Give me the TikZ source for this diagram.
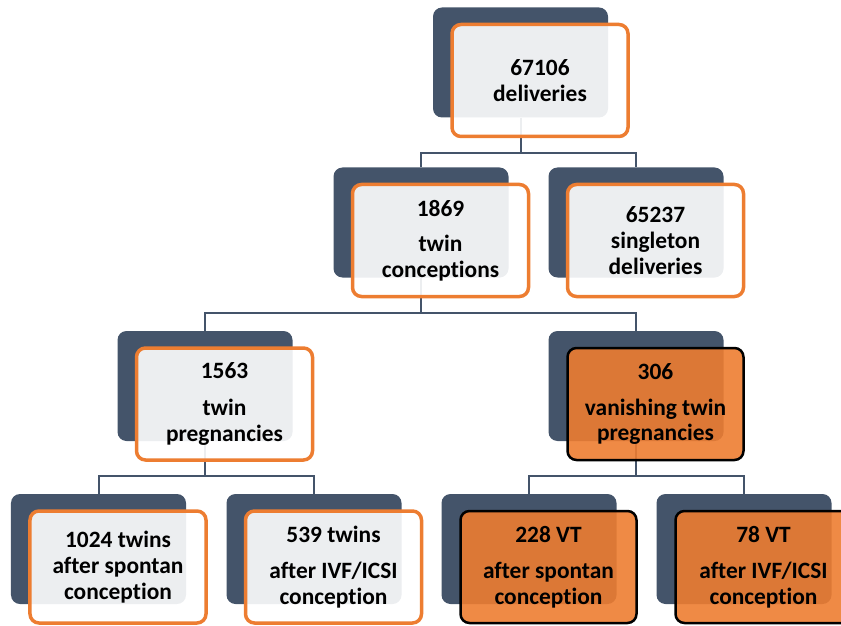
\documentclass[tikz,border=0pt]{standalone}
\usepackage{fontspec}
\setmainfont{Carlito}[Ligatures=NoCommon]
\usetikzlibrary{positioning}
\definecolor{slateBlue}{HTML}{44546A}
\definecolor{boxOrange}{HTML}{ED7D31}
\tikzset{
    backBox/.style={
        rounded corners=9bp,
        fill=slateBlue,
        inner sep=0pt,
        minimum width=175bp,
        minimum height=110bp
    },
    frontBox/.style={
        rounded corners=9bp,
        draw=boxOrange,
        line width=3.5bp,
        fill=white,
        fill opacity=0.9,
        text opacity=1,
        inner sep=0pt,
        minimum width=176bp,
        minimum height=112bp,
        xshift=19.5bp,
        yshift=-18bp,
        align=center,
        font=\fontsize{23.5}{26}\selectfont\bfseries
    },
    hotBox/.style={
        frontBox,
        draw=black,
        line width=2.5bp,
        fill=boxOrange
    },
    connLine/.style={
        draw=slateBlue,
        line width=2bp
    }
}

\begin{document}
\begin{tikzpicture}[x=1bp, y=-1bp]
            \useasboundingbox (0,0) rectangle (841,626);
            \clip (0,0) rectangle (841,626);

            % Back boxes
            \node[backBox] (b1) at (520.5,62.5) {};
            \node[backBox] (b2) at (421,222.5) {};
            \node[backBox] (b3) at (636,222.5) {};
            \node[backBox] (b4) at (205,386) {};
            \node[backBox] (b5) at (636,386) {};
            \node[backBox] (b6) at (98.5,549) {};
            \node[backBox] (b7) at (314,549) {};
            \node[backBox] (b8) at (529,549) {};
            \node[backBox] (b9) at (744,549) {};

            % Connectors
            \draw[connLine] (b1.south) -- ++(0,35) coordinate (j1);
            \draw[connLine] (b2.north) |- (j1) -| (b3.north);
            \draw[connLine] (b2.south) -- ++(0,35) coordinate (j2);
            \draw[connLine] (b4.north) |- (j2) -| (b5.north);
            \draw[connLine] (b4.south) -- ++(0,35) coordinate (j3);
            \draw[connLine] (b6.north) |- (j3) -| (b7.north);
            \draw[connLine] (b5.south) -- ++(0,35) coordinate (j4);
            \draw[connLine] (b8.north) |- (j4) -| (b9.north);

            % Front boxes
            \node[frontBox] (f1) at (b1) {67106\\deliveries};
            \node[frontBox] (f2) at (b2) {1869\\[9bp]twin\\conceptions};
            \node[frontBox] (f3) at (b3) {65237\\singleton\\deliveries};
            \node[frontBox] (f4) at (b4) {1563\\[11bp]twin\\pregnancies};
            \node[hotBox] (f5) at (b5) {306\\[10bp]vanishing twin\\pregnancies};
            \node[frontBox] (f6) at (b6) {1024 twins\\after spontan\\conception};
            \node[frontBox] (f7) at (b7) {539 twins\\[10bp]after IVF/ICSI\\conception};
            \node[hotBox] (f8) at (b8) {228 VT\\[10bp]after spontan\\conception};
            \node[hotBox] (f9) at (b9) {78 VT\\[10bp]after IVF/ICSI\\conception};
        \end{tikzpicture}
\end{document}
